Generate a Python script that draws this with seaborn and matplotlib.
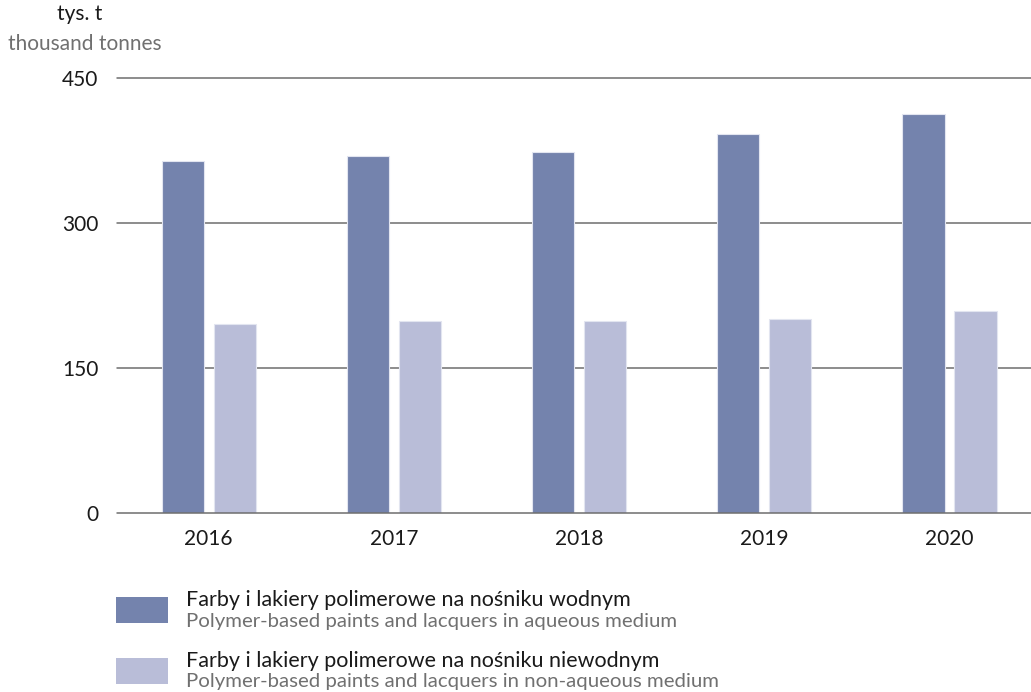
import matplotlib
matplotlib.use("Agg")
import matplotlib.pyplot as plt
from matplotlib.patches import Rectangle
import pandas as pd
import seaborn as sns

# Production of polymer-based paints and lacquers, thousand tonnes
years = ["2016", "2017", "2018", "2019", "2020"]
aqueous = [364, 369, 373, 392, 412]
non_aqueous = [196, 199, 199, 201, 209]

series_pl = [
    "Farby i lakiery polimerowe na nośniku wodnym",
    "Farby i lakiery polimerowe na nośniku niewodnym",
]
series_en = [
    "Polymer-based paints and lacquers in aqueous medium",
    "Polymer-based paints and lacquers in non-aqueous medium",
]
colors = ["#7483AD", "#B9BDD8"]
y_ticks = [0, 150, 300, 450]

df = pd.DataFrame({
    "year": years * 2,
    "value": aqueous + non_aqueous,
    "series": [series_pl[0]] * len(years) + [series_pl[1]] * len(years),
})

sns.set_theme(style="white")
plt.rcParams["font.family"] = ["Lato", "DejaVu Sans"]

W, H = 1031, 692
fig = plt.figure(figsize=(W / 100, H / 100), dpi=100)
ax_left = 116.7 / W
ax_bottom = 1 - 513.3 / H
ax_top = 1 - 77.7 / H
ax = fig.add_axes([ax_left, ax_bottom, 1 - ax_left, ax_top - ax_bottom])

sns.barplot(
    data=df, x="year", y="value", hue="series",
    palette=colors, saturation=1, width=0.562, gap=0.19,
    edgecolor="#E2E5F0", linewidth=0.8,
    legend=False, ax=ax, zorder=3,
)

ax.set_ylim(0, 450)
ax.set_xlim(-0.497, 4.44)
ax.set_yticks(y_ticks)
ax.set_yticklabels([str(t) for t in y_ticks])
for t in y_ticks:
    ax.axhline(t, color="#6E6E6E", linewidth=1.1, zorder=4 if t == 0 else 2,
               clip_on=False)
for s in ax.spines.values():
    s.set_visible(False)
ax.tick_params(axis="both", length=0, labelsize=15, colors="#1a1a1a")
ax.tick_params(axis="y", pad=13)
ax.tick_params(axis="x", pad=11)
ax.set_xlabel("")
ax.set_ylabel("")

# Unit labels above the value axis
fig.text(80 / W, 1 - 14 / H, "tys. t", ha="center", va="center",
         fontsize=15, color="#1a1a1a")
fig.text(85 / W, 1 - 44 / H, "thousand tonnes", ha="center", va="center",
         fontsize=15, color="#707070")

# Legend: swatch plus Polish / English description
entry_y = [610, 671]
for i, y in enumerate(entry_y):
    fig.add_artist(Rectangle((116 / W, 1 - (y + 13) / H), 52 / W, 26 / H,
                             transform=fig.transFigure, facecolor=colors[i],
                             edgecolor="none"))
    fig.text(186 / W, 1 - (y - 10) / H, series_pl[i], ha="left", va="center",
             fontsize=15.5, color="#1a1a1a")
    fig.text(186 / W, 1 - (y + 11) / H, series_en[i], ha="left", va="center",
             fontsize=14.7, color="#707070")

fig.savefig("out.png", dpi=100)
